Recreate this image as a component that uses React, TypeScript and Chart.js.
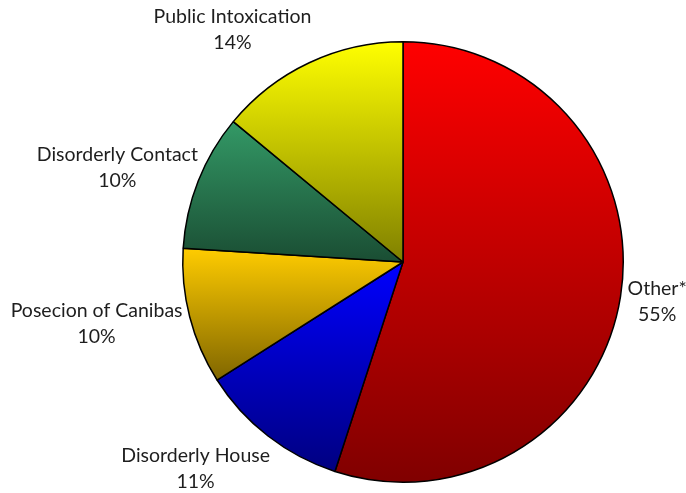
import React, { useEffect, useRef } from "react";
import { Chart, registerables } from "chart.js";

Chart.register(...registerables);

const categories = ["Other*", "Disorderly House", "Posecion of Canibas", "Disorderly Contact", "Public Intoxication"];
const values = [55, 11, 10, 10, 14];
const percentLabels = ["55%", "11%", "10%", "10%", "14%"];
const topColors = ["#ff0000", "#0000ff", "#ffcc00", "#339966", "#ffff00"];
const bottomColors = ["#800000", "#000080", "#806600", "#1a4d33", "#808000"];

// label nudges (px) relative to a point just outside the slice's mid-angle
const labelNudges: [number, number][] = [
  [7, 1],
  [-54, 9],
  [-64, -1],
  [-53, -2],
  [-64, -6],
];

const BORDER = 1.5;

function sliceGradient(c: any) {
  const chart = c.chart;
  const area = chart.chartArea;
  const i = c.dataIndex;
  if (!area || i === undefined) return topColors[i ?? 0];
  const cx = (area.left + area.right) / 2;
  const cy = (area.top + area.bottom) / 2;
  const r = (Math.min(area.right - area.left, area.bottom - area.top) - BORDER) / 2;
  const total = values.reduce((a, b) => a + b, 0);
  const before = values.slice(0, i).reduce((a, b) => a + b, 0);
  const start = -Math.PI / 2 + (before / total) * Math.PI * 2;
  const end = start + (values[i] / total) * Math.PI * 2;
  const ys = [cy, cy + r * Math.sin(start), cy + r * Math.sin(end)];
  for (const a of [-Math.PI / 2, Math.PI / 2, (3 * Math.PI) / 2]) {
    if (a >= start && a <= end) ys.push(cy + r * Math.sin(a));
  }
  const y0 = Math.min(...ys);
  const y1 = Math.max(...ys);
  const g = chart.ctx.createLinearGradient(0, y0, 0, y1 > y0 ? y1 : y0 + 1);
  g.addColorStop(0, topColors[i]);
  g.addColorStop(1, bottomColors[i]);
  return g;
}

const labelPlugin = {
  id: "outsideLabels",
  afterDatasetsDraw(chart: any) {
    const ctx = chart.ctx;
    const meta = chart.getDatasetMeta(0);
    ctx.save();
    ctx.font = '19.5px "Lato", sans-serif';
    ctx.fillStyle = "#1e1e1e";
    ctx.textAlign = "center";
    ctx.textBaseline = "middle";
    meta.data.forEach((arc: any, i: number) => {
      const mid = (arc.startAngle + arc.endAngle) / 2;
      const d = arc.outerRadius + 30;
      const x = arc.x + Math.cos(mid) * d + labelNudges[i][0];
      const y = arc.y + Math.sin(mid) * d + labelNudges[i][1];
      ctx.fillText(categories[i], x, y - 13);
      ctx.fillText(percentLabels[i], x, y + 13);
    });
    ctx.restore();
  },
};

export default function App() {
  const ref = useRef<HTMLCanvasElement | null>(null);
  useEffect(() => {
    if (!ref.current) return;
    const chart = new Chart(ref.current, {
      type: "pie",
      data: {
        labels: categories,
        datasets: [
          {
            data: values,
            backgroundColor: sliceGradient as any,
            borderColor: "#000000",
            borderWidth: BORDER,
            hoverOffset: 0,
          },
        ],
      },
      options: {
        animation: false,
        responsive: false,
        maintainAspectRatio: false,
        layout: { padding: { left: 120, right: 0, top: 41, bottom: 10 } },
        plugins: {
          legend: { display: false },
          tooltip: { enabled: false },
        },
      },
      plugins: [labelPlugin],
    });
    return () => chart.destroy();
  }, []);
  return (
    <div style={{ position: "absolute", left: 0, top: 0, width: 686, height: 493, background: "#ffffff" }}>
      <canvas ref={ref} width={686} height={493} style={{ width: 686, height: 493, display: "block" }} />
    </div>
  );
}
